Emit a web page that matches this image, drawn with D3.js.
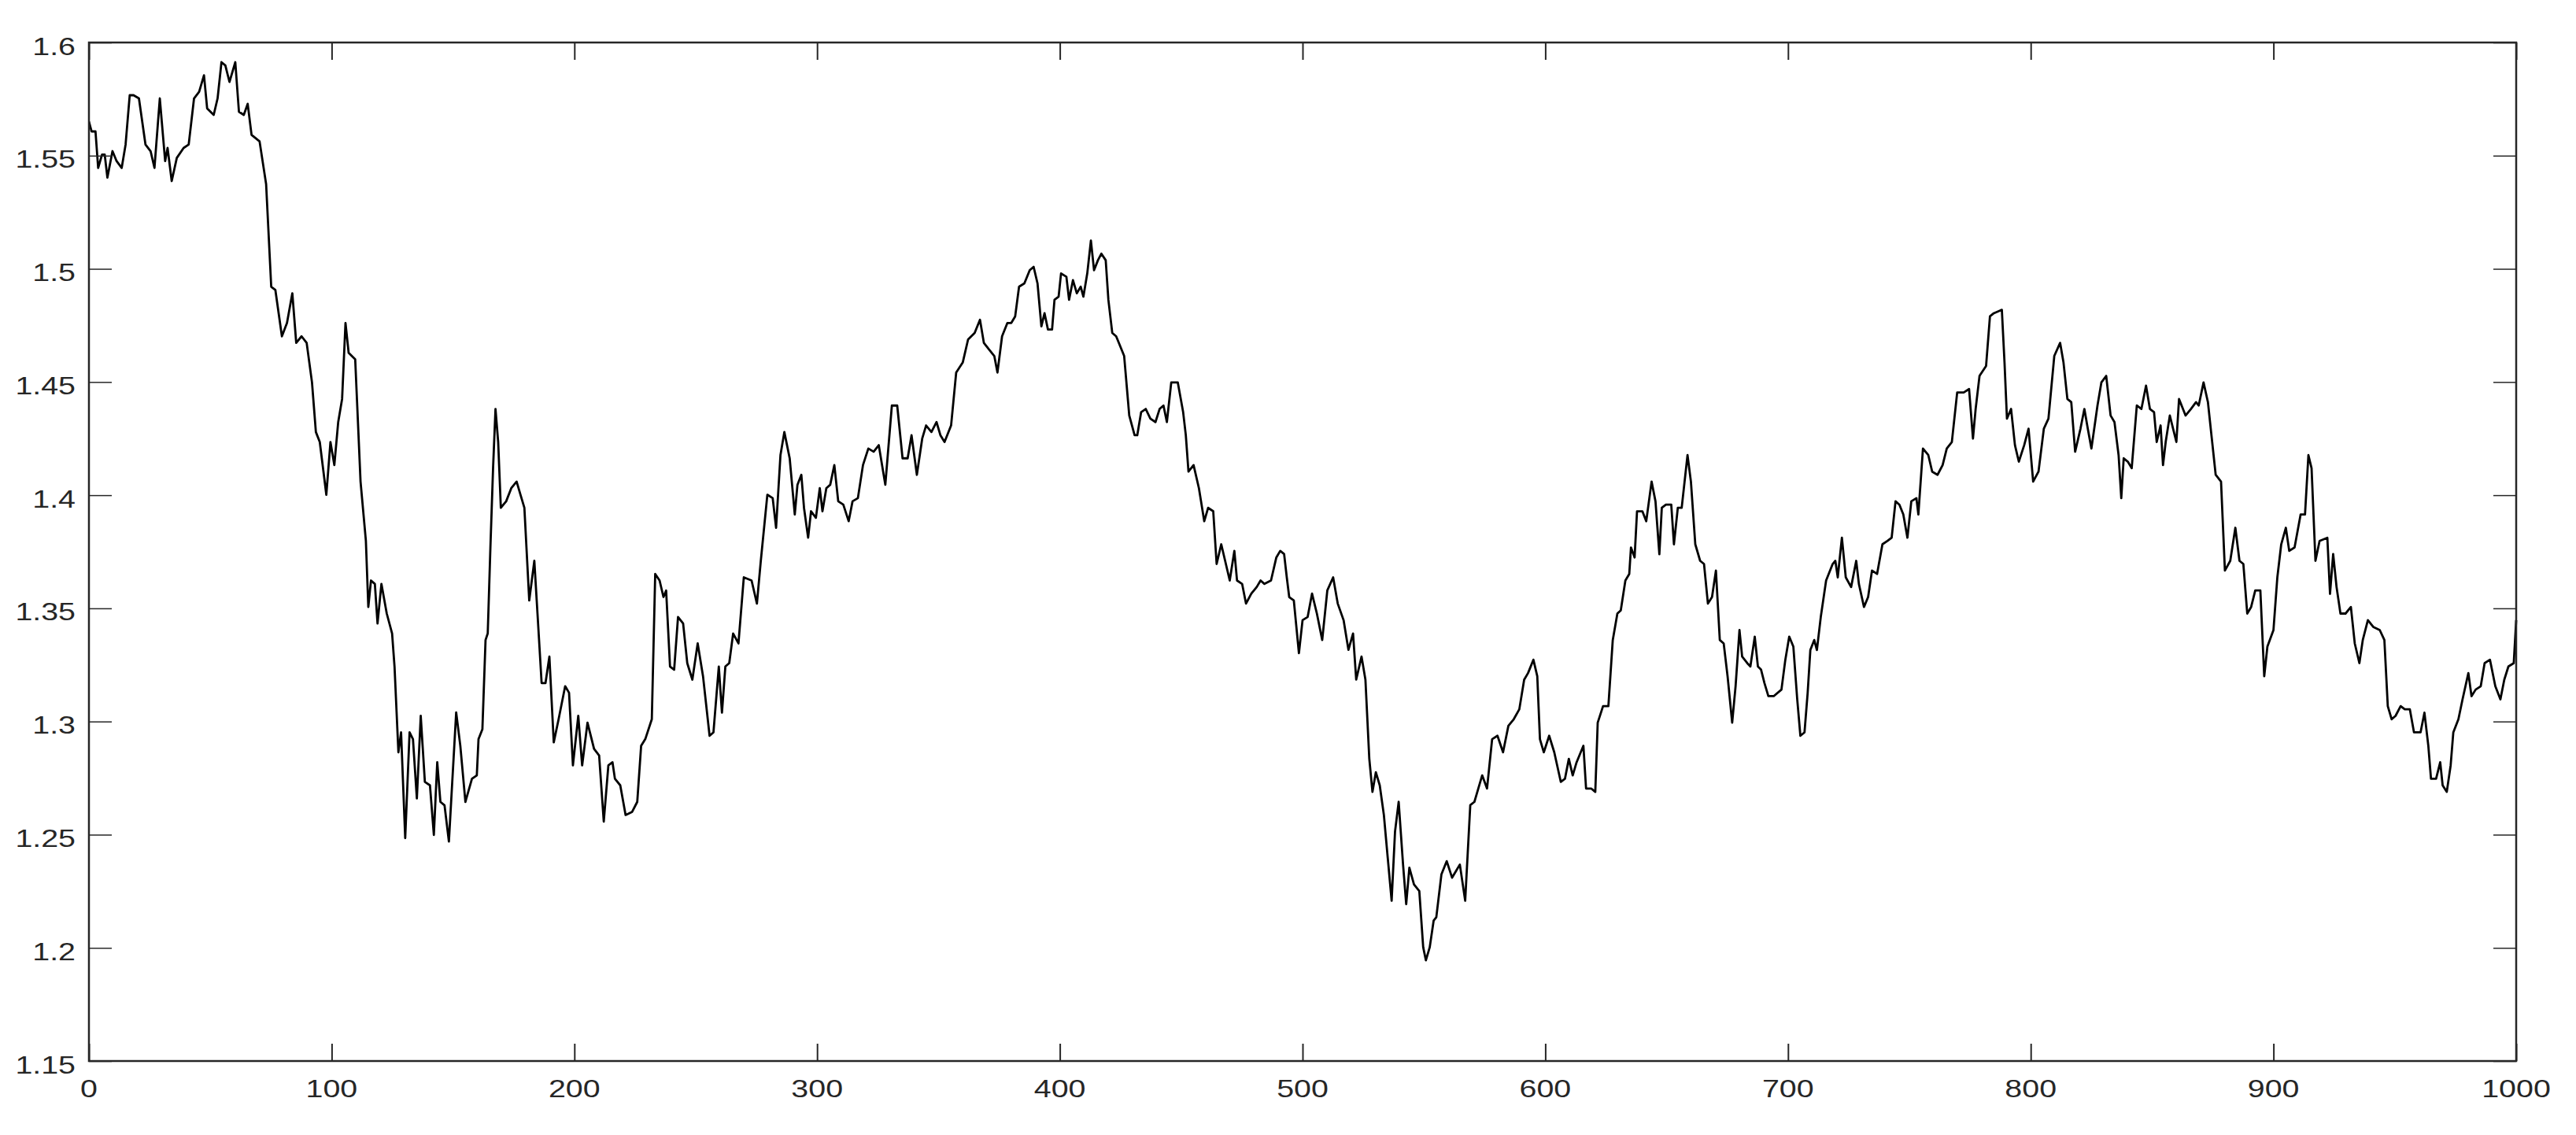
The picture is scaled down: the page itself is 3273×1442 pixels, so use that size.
<!DOCTYPE html>
<html>
<head>
<meta charset="utf-8">
<script src="https://cdn.jsdelivr.net/npm/d3@7"></script>
<style>
  html, body { margin: 0; padding: 0; background: #fff; }
  svg { display: block; }
  text { font-family: "Liberation Sans", Arial, Helvetica, sans-serif; }
</style>
</head>
<body>
<svg id="chart" width="3273" height="1442"></svg>
<script>
// ---- data ----
const xTickValues = [0, 100, 200, 300, 400, 500, 600, 700, 800, 900, 1000];
const xTickLabels = ["0", "100", "200", "300", "400", "500", "600", "700", "800", "900", "1000"];
const yTickValues = [1.15, 1.2, 1.25, 1.3, 1.35, 1.4, 1.45, 1.5, 1.55, 1.6];
const yTickLabels = ["1.15", "1.2", "1.25", "1.3", "1.35", "1.4", "1.45", "1.5", "1.55", "1.6"];

const seriesX = [
0,1.1,2.7,3.8,5.4,6.5,7.6,9.7,11.4,13.5,15.1,16.8,18.4,20.6,23.3,25.4,27.0,29.2,31.4,32.4,34.1,36.2,39.0,41.1,43.3,45.4,47.4,48.7,51.4,53.0,54.6,56.2,57.9,60.3,61.8,63.8,65.4,67.0,70.3,73.0,75.1,76.8,79.5,81.6,83.8,85.4,87.6,89.7,91.9,93.5,95.1,97.8,99.5,101.1,102.7,104.3,105.7,107.0,109.7,111.9,114.1,115.1,116.2,117.8,118.9,120.5,122.7,124.9,
125.9,127.5,128.6,130.3,132.1,133.5,135.1,136.7,138.4,140.5,142.1,143.5,144.8,146.5,148.3,151.3,153.0,155.1,157.8,159.8,160.5,162.1,163.4,164.3,165.4,166.5,167.5,168.6,169.7,171.9,174.0,176.2,177.8,179.4,181.4,183.5,184.8,186.5,188.1,189.7,191.5,193.5,196.2,197.8,199.4,201.6,203.2,205.4,208.1,210.2,212.1,214.0,215.7,216.7,218.9,221.1,223.8,225.9,227.5,229.2,231.9,233.3,235.1,236.7,237.8,239.4,241.1,242.7,244.8,246.5,248.6,
250.8,253.0,255.7,257.3,259.5,260.8,262.2,263.8,265.4,267.6,269.8,273.0,275.2,276.8,279.5,281.7,283.1,284.9,286.5,288.7,290.8,291.9,293.5,294.6,296.3,297.5,299.5,301.1,302.2,303.8,305.4,307.1,308.7,310.8,313.0,314.6,316.8,318.9,321.1,323.3,325.4,328.1,330.8,333.0,335.2,337.3,338.9,341.1,343.3,344.9,347.1,349.2,350.8,352.5,355.2,357.3,360.0,362.2,364.9,367.1,368.7,
370.8,373.0,374.3,376.2,378.4,380.0,381.6,383.2,385.4,387.6,389.2,390.8,392.4,393.7,395.1,396.8,397.8,399.5,400.5,402.7,403.8,405.4,407.0,408.6,409.7,411.3,412.8,414.1,415.7,417.1,418.9,420.0,421.6,423.2,424.3,426.5,428.6,430.8,431.9,433.5,435.4,437.3,439.4,441.1,442.7,444.1,445.9,448.6,450.8,451.9,453.0,455.1,457.3,459.5,461.1,463.2,464.6,466.5,468.1,470.0,471.9,473.0,475.1,476.7,478.9,481.1,482.7,484.3,487.0,489.2,490.8,492.4,493.5,
494.5,496.4,498.5,500.0,502.1,503.9,505.9,508.1,510.2,512.6,514.5,516.9,518.9,520.8,522.1,524.3,525.9,527.5,528.8,530.2,531.8,533.5,535.1,536.7,538.1,539.6,541.4,542.7,544.0,545.9,548.1,549.7,550.8,552.4,554.0,555.1,557.2,559.4,561.6,563.2,564.8,567.0,569.1,570.8,572.4,574.0,576.0,578.1,580.3,582.6,584.8,587.0,589.3,591.3,592.9,595.1,596.7,597.8,599.4,601.6,603.7,606.4,608.1,609.7,611.3,612.9,
615.7,616.8,618.9,620.6,621.6,623.8,626.0,627.8,629.7,631.1,633.0,634.6,635.3,636.8,637.8,640.0,641.6,643.8,645.4,647.0,648.0,649.7,651.9,653.0,654.6,656.2,658.6,660.0,661.8,663.8,665.4,667.0,668.7,670.3,671.9,673.5,675.1,677.0,678.4,680.0,681.1,683.2,684.5,686.3,687.6,688.9,690.3,691.9,694.1,697.3,698.9,700.5,702.2,703.8,705.1,706.8,708.1,709.2,710.8,711.9,713.5,715.7,718.4,719.5,720.5,722.2,723.8,726.0,728.1,729.2,731.3,733.0,734.6,
736.7,738.9,741.0,742.7,744.3,745.9,747.5,749.2,750.8,752.9,753.7,755.6,757.8,759.4,761.6,763.7,765.4,767.5,769.7,772.4,774.6,776.2,777.3,778.9,781.6,783.2,784.8,788.1,789.2,790.2,791.9,793.5,795.1,797.3,799.1,801.0,803.2,805.4,807.3,809.7,812.1,813.5,815.1,816.7,818.3,820.5,822.1,823.5,825.0,827.5,829.1,831.1,832.9,834.5,836.2,837.3,838.3,840.0,841.6,843.7,845.6,847.5,849.1,850.8,851.9,853.5,854.5,855.6,857.3,
860.0,861.1,863.8,866.0,868.1,869.2,871.2,873.0,874.6,876.2,878.4,880.0,882.2,884.3,886.0,887.6,889.2,890.8,892.5,894.6,896.2,897.5,900.0,901.6,903.2,905.1,906.5,908.7,911.2,913.0,914.4,915.7,917.3,919.0,922.2,923.3,924.6,926.0,927.6,929.7,931.9,933.5,935.4,936.8,938.9,941.1,943.8,945.7,947.1,948.7,950.3,952.4,954.1,956.2,957.9,960.6,962.2,963.8,964.9,967.0,968.7,969.7,971.4,973.0,974.1,976.2,977.9,980.3,981.6,983.3,985.4,987.0,989.2,991.4,993.5,995.1,996.8,999.0,1000
];

const seriesY = [
1.5651,1.5607,1.5607,1.5446,1.5505,1.5505,1.5403,1.552,1.5476,1.5446,1.5549,1.5767,1.5767,1.5753,1.5549,1.552,1.5446,1.5753,1.5476,1.5534,1.5388,1.549,1.5534,1.5549,1.5753,1.5782,1.5855,1.5709,1.568,1.5753,1.5913,1.5899,1.5826,1.5913,1.5694,1.568,1.5729,1.5592,1.5563,1.5374,1.4921,1.4907,1.4702,1.4761,1.4892,1.4673,1.4702,1.4673,1.4498,1.4279,1.4235,1.4002,1.4235,1.4133,1.4323,1.4425,1.4761,1.4629,1.46,1.406,1.3798,1.3506,1.3623,1.3608,1.3433,1.3608,1.3477,1.3389,
1.3243,1.2864,1.2952,1.2485,1.2952,1.2922,1.2660,1.3025,1.2733,1.2718,1.2499,1.282,1.2645,1.263,1.247,1.304,1.2893,1.2645,1.2747,1.2762,1.2922,1.2966,1.336,1.3389,1.3769,1.4119,1.4381,1.4235,1.3944,1.3973,1.4031,1.406,1.4002,1.3944,1.3535,1.371,1.3477,1.317,1.317,1.3287,1.2908,1.301,1.3156,1.3127,1.2806,1.3025,1.2806,1.2995,1.2879,1.285,1.2558,1.2806,1.282,1.2747,1.2718,1.2587,1.2601,1.2645,1.2893,1.2922,1.301,1.3652,1.3623,1.355,1.3579,1.3243,1.3229,1.3462,1.3433,1.3258,1.3185,
1.3345,1.32,1.2937,1.2952,1.3243,1.3039,1.3243,1.3258,1.3389,1.3345,1.3637,1.3623,1.3521,1.371,1.4002,1.3987,1.3856,1.4177,1.4279,1.4163,1.3915,1.4046,1.4090,1.3944,1.3812,1.3929,1.39,1.4031,1.3929,1.4031,1.4046,1.4133,1.3973,1.3958,1.3885,1.3973,1.3987,1.4133,1.4206,1.4192,1.4221,1.4046,1.4396,1.4396,1.4163,1.4163,1.4265,1.4090,1.425,1.4308,1.4279,1.4323,1.4265,1.4235,1.4308,1.4542,1.4586,1.4688,1.4717,1.4775,1.4673,
1.4644,1.4615,1.4542,1.4702,1.4761,1.4761,1.479,1.4921,1.4936,1.4994,1.5009,1.4936,1.4746,1.4804,1.4732,1.4732,1.4863,1.4877,1.4980,1.4965,1.4863,1.4950,1.4892,1.4921,1.4877,1.4980,1.5125,1.4994,1.5038,1.5067,1.5038,1.4863,1.4717,1.4702,1.4673,1.4615,1.4352,1.4265,1.4265,1.4367,1.4381,1.4338,1.4323,1.4381,1.4396,1.4323,1.4498,1.4498,1.4367,1.4265,1.4104,1.4133,1.4031,1.3885,1.3944,1.3929,1.3696,1.3783,1.371,1.3623,1.3754,1.3623,1.3608,1.3521,1.3565,1.3594,1.3623,1.3608,1.3623,1.3725,1.3754,1.374,1.3637,
1.355,1.3535,1.3302,1.3448,1.3462,1.3565,1.3477,1.336,1.3579,1.3637,1.3521,1.3448,1.3317,1.3389,1.3185,1.3287,1.3185,1.2835,1.2689,1.2776,1.2718,1.2587,1.2397,1.2208,1.2514,1.2645,1.2368,1.2193,1.2354,1.2280,1.2251,1.2003,1.1945,1.2003,1.2120,1.2135,1.2324,1.2383,1.231,1.2339,1.2368,1.2208,1.2631,1.2645,1.2704,1.2762,1.2704,1.2922,1.2937,1.2864,1.2981,1.301,1.3054,1.3185,1.3214,1.3273,1.32,1.2922,1.2864,1.2937,1.2864,1.2733,1.2747,1.2835,1.2762,1.282,
1.2893,1.2704,1.2704,1.2689,1.2995,1.3068,1.3068,1.336,1.3477,1.3491,1.3623,1.3652,1.3769,1.3725,1.3929,1.3929,1.3885,1.406,1.3973,1.3739,1.3944,1.3958,1.3958,1.3783,1.3944,1.3944,1.4177,1.406,1.3783,1.371,1.3696,1.3521,1.355,1.3667,1.336,1.3345,1.32,1.2995,1.3156,1.3404,1.3287,1.3258,1.3243,1.3375,1.3243,1.3229,1.317,1.3112,1.3112,1.3141,1.3273,1.3375,1.3331,1.3098,1.2937,1.2952,1.3127,1.3316,1.336,1.3316,1.3462,1.3623,1.3696,1.371,1.3637,1.3812,1.3637,1.3594,1.371,1.3608,1.3506,1.355,1.3667,
1.3652,1.3783,1.3798,1.3812,1.3973,1.3958,1.3915,1.3812,1.3973,1.3987,1.3915,1.4206,1.4177,1.4104,1.409,1.4133,1.4206,1.4235,1.4454,1.4454,1.4469,1.425,1.4381,1.4527,1.4571,1.479,1.4804,1.4819,1.4586,1.4338,1.4381,1.4221,1.4148,1.4221,1.4294,1.406,1.4104,1.4294,1.4338,1.4615,1.4673,1.4586,1.4425,1.4411,1.4192,1.4294,1.4381,1.4294,1.4206,1.4396,1.4498,1.4527,1.4352,1.4323,1.4177,1.3987,1.4163,1.4148,1.4119,1.4396,1.4381,1.4484,1.4381,1.4367,1.4235,1.4308,1.4133,1.4235,1.4352,
1.4235,1.4425,1.4352,1.4381,1.4411,1.4396,1.4498,1.4411,1.425,1.4090,1.406,1.3667,1.371,1.3856,1.371,1.3696,1.3477,1.3506,1.3579,1.3579,1.32,1.3331,1.3404,1.3637,1.3783,1.3856,1.3754,1.3769,1.3915,1.3915,1.4177,1.4119,1.371,1.3798,1.3812,1.3564,1.374,1.3594,1.3477,1.3477,1.3506,1.3345,1.3258,1.336,1.3448,1.3418,1.3404,1.336,1.3068,1.301,1.3025,1.3068,1.3054,1.3054,1.2952,1.2952,1.3039,1.2893,1.2747,1.2747,1.282,1.2718,1.2689,1.2806,1.2952,1.301,1.3098,1.3214,1.3112,1.3141,1.3156,1.3258,1.3273,1.3156,1.3098,1.3185,1.3243,1.3258,1.3448
];

// ---- layout ----
const W = 3273, H = 1442;
const plot = { left: 113, top: 54, right: 3197, bottom: 1348 };
const axisColor = "#262626";
const textStretch = 1.27;   // reference glyphs are horizontally stretched

const svg = d3.select("#chart");

const x = d3.scaleLinear().domain([0, 1000]).range([plot.left, plot.right]);
const y = d3.scaleLinear().domain([1.15, 1.6]).range([plot.bottom, plot.top]);

const pts = seriesX.map((v, i) => [v, seriesY[i]]);

// data line (clipped to the box)
svg.append("clipPath").attr("id", "clip")
  .append("rect")
  .attr("x", plot.left).attr("y", plot.top - 2)
  .attr("width", plot.right - plot.left + 3).attr("height", plot.bottom - plot.top + 4);

svg.append("path")
  .datum(pts)
  .attr("clip-path", "url(#clip)")
  .attr("fill", "none")
  .attr("stroke", "#000")
  .attr("stroke-width", 2.8)
  .attr("stroke-linejoin", "round")
  .attr("d", d3.line().x(d => x(d[0])).y(d => y(d[1])));

// axes: ticks drawn inward with d3 axes (no labels), labels added separately
const xTickLen = 22, yTickLen = 29;

function styleAxis(g, width) {
  g.select(".domain").remove();
  g.selectAll(".tick line").attr("stroke", axisColor).attr("stroke-width", width);
  g.selectAll(".tick text").remove();
}

svg.append("g").attr("transform", `translate(0,${plot.bottom})`)
  .call(d3.axisBottom(x).tickValues(xTickValues).tickSize(-xTickLen).tickFormat(""))
  .call(g => styleAxis(g, 2));
svg.append("g").attr("transform", `translate(0,${plot.top})`)
  .call(d3.axisTop(x).tickValues(xTickValues).tickSize(-xTickLen).tickFormat(""))
  .call(g => styleAxis(g, 2));
svg.append("g").attr("transform", `translate(${plot.left},0)`)
  .call(d3.axisLeft(y).tickValues(yTickValues).tickSize(-yTickLen).tickFormat(""))
  .call(g => styleAxis(g, 1.5));
svg.append("g").attr("transform", `translate(${plot.right},0)`)
  .call(d3.axisRight(y).tickValues(yTickValues).tickSize(-yTickLen).tickFormat(""))
  .call(g => styleAxis(g, 1.5));

// box
svg.append("rect")
  .attr("x", plot.left).attr("y", plot.top)
  .attr("width", plot.right - plot.left).attr("height", plot.bottom - plot.top)
  .attr("fill", "none").attr("stroke", axisColor).attr("stroke-width", 2.5);

// tick labels
svg.append("g").selectAll("text")
  .data(xTickValues)
  .join("text")
  .attr("transform", d => `translate(${x(d)},${plot.bottom + 46}) scale(${textStretch},1)`)
  .attr("text-anchor", "middle")
  .attr("font-size", 31)
  .attr("fill", axisColor)
  .text((d, i) => xTickLabels[i]);

svg.append("g").selectAll("text")
  .data(yTickValues)
  .join("text")
  .attr("transform", d => `translate(${plot.left - 17},${y(d) + 15.5}) scale(${textStretch},1)`)
  .attr("text-anchor", "end")
  .attr("font-size", 31)
  .attr("fill", axisColor)
  .text((d, i) => yTickLabels[i]);
</script>
</body>
</html>
